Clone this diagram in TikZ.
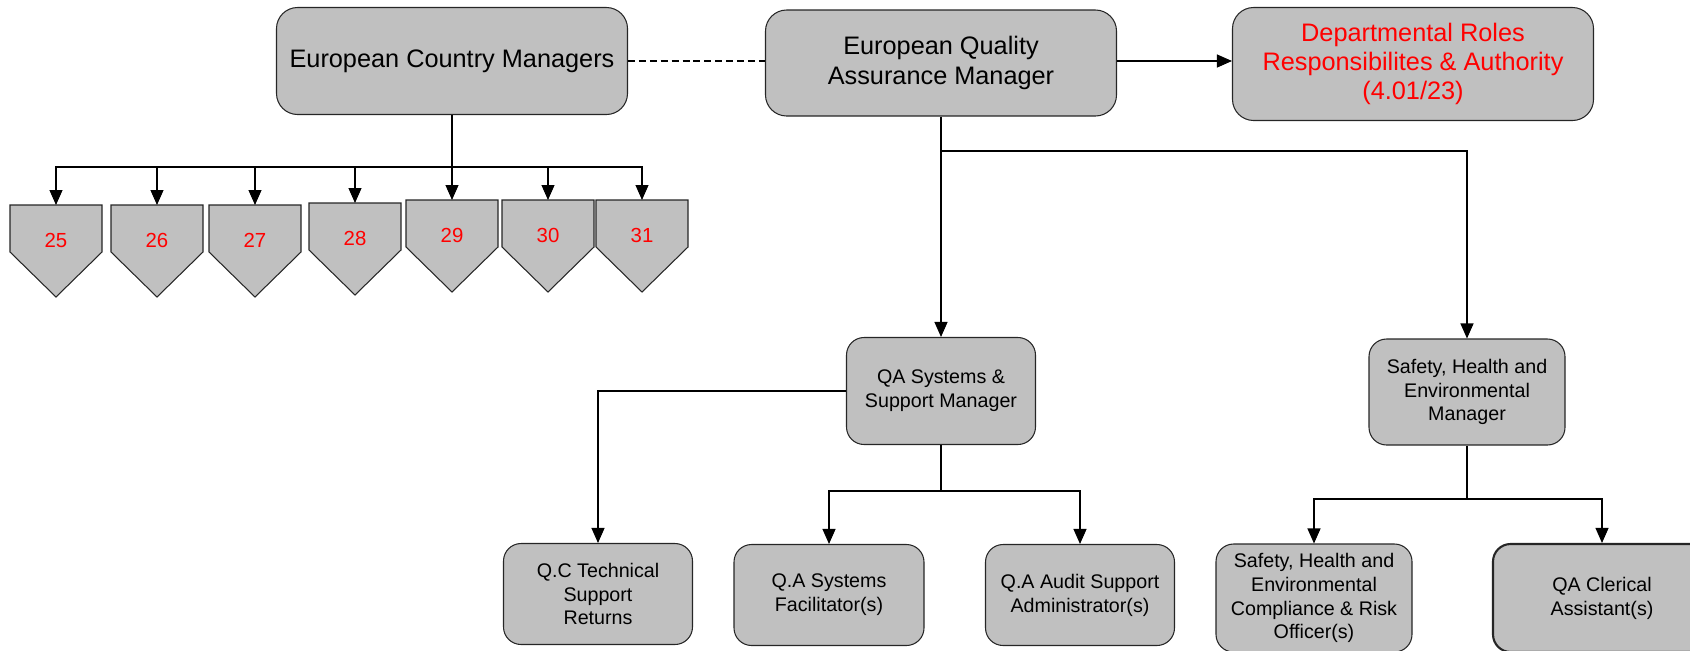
\documentclass[tikz,border=0pt]{standalone}
\usepackage{fontspec}
\setmainfont{Liberation Sans}
\usetikzlibrary{arrows.meta,positioning}
\definecolor{boxgray}{RGB}{192,192,192}
\definecolor{rolered}{RGB}{255,0,0}

\tikzset{
	box/.style={draw=black!85, fill=boxgray, rounded corners=10pt, align=center, inner sep=0pt, line width=0.6pt, font=\fontsize{11.2}{13.6}\selectfont},
	bigbox/.style={box, rounded corners=12pt, font=\fontsize{14.4}{17}\selectfont},
	pent/.style={draw=black!85, fill=boxgray, line width=0.6pt},
	num/.style={text=rolered, font=\fontsize{11.6}{14}\selectfont},
	link/.style={line width=0.6pt},
	arr/.style={link, -{Triangle[length=0.3cm,width=0.26cm]}}
}

\begin{document}
\begin{tikzpicture}[x=0.02cm, y=-0.02cm]
	\clip (0,0) rectangle (1690,650);
	% Knoten
		\node (ecm) at (452,61) [bigbox, minimum width=351*0.02cm, minimum height=107*0.02cm] {European Country Managers};
		\node (eqam) at (941,63) [bigbox, minimum width=351*0.02cm, minimum height=106*0.02cm] {European Quality\\Assurance Manager};
		\node (dept) at (1413,64) [bigbox, minimum width=361*0.02cm, minimum height=113*0.02cm, text=rolered, font=\fontsize{14.4}{16.5}\selectfont] {Departmental Roles\\Responsibilites \& Authority\\(4.01/23)};
		\node (qasm) at (941,391) [box, minimum width=189*0.02cm, minimum height=107*0.02cm] {QA Systems \&\\Support Manager};
		\node (shem) at (1467,392) [box, minimum width=196*0.02cm, minimum height=106*0.02cm] {Safety, Health and\\Environmental\\Manager};
		\node (qc) at (598,594) [box, minimum width=189*0.02cm, minimum height=101*0.02cm] {Q.C Technical\\Support\\Returns};
		\node (qaf) at (829,595) [box, minimum width=190*0.02cm, minimum height=101*0.02cm] {Q.A Systems\\Facilitator(s)};
		\node (qaa) at (1080,595) [box, minimum width=189*0.02cm, minimum height=101*0.02cm] {Q.A Audit Support\\Administrator(s)};
		\node (shec) at (1314,598) [box, minimum width=196*0.02cm, minimum height=108*0.02cm] {Safety, Health and\\Environmental\\Compliance \& Risk\\Officer(s)};
		\node (qac) at (1602,598) [box, line width=1.2pt, minimum width=218*0.02cm, minimum height=108*0.02cm] {QA Clerical\\Assistant(s)};
		\foreach \n/\x/\t in {25/56/205, 26/157/205, 27/255/205, 28/355/203, 29/452/200, 30/548/200, 31/642/200} {
			\draw[pent] (\x-46,\t) -- (\x+46,\t) -- (\x+46,\t+47) -- (\x,\t+92) -- (\x-46,\t+47) -- cycle;
			\node (p\n) at (\x,\t+35) [num] {\n};
			\coordinate (t\n) at (\x,\t);
		}
		\coordinate (ebus) at (452,167);
		\coordinate (qbus) at (941,151);
		\coordinate (sbus) at (941,491);
		\coordinate (hbus) at (1467,499);
	% Kanten
		\draw[link, line width=0.9pt, dash pattern=on 4pt off 2.2pt] (ecm.east) -- (eqam.west |- ecm.east);
		\draw[arr] (eqam.east |- ecm.east) -- (dept.west |- ecm.east);
		\draw[link, line width=1.1pt] (ecm.south) -- (ebus);
		\foreach \n in {25,26,27,28,29,30,31}
			\draw[arr] (ebus) -| (t\n);
		\draw[arr] (eqam.south) -- (qasm.north);
		\draw[arr] (qbus) -| (shem.north);
		\draw[arr] (qasm.west) -| (qc.north);
		\draw[link] (qasm.south) -- (sbus);
		\draw[arr] (sbus) -| (qaf.north);
		\draw[arr] (sbus) -| (qaa.north);
		\draw[link] (shem.south) -- (hbus);
		\draw[arr] (hbus) -| (shec.north);
		\draw[arr] (hbus) -| (qac.north);
	\end{tikzpicture}
\end{document}
